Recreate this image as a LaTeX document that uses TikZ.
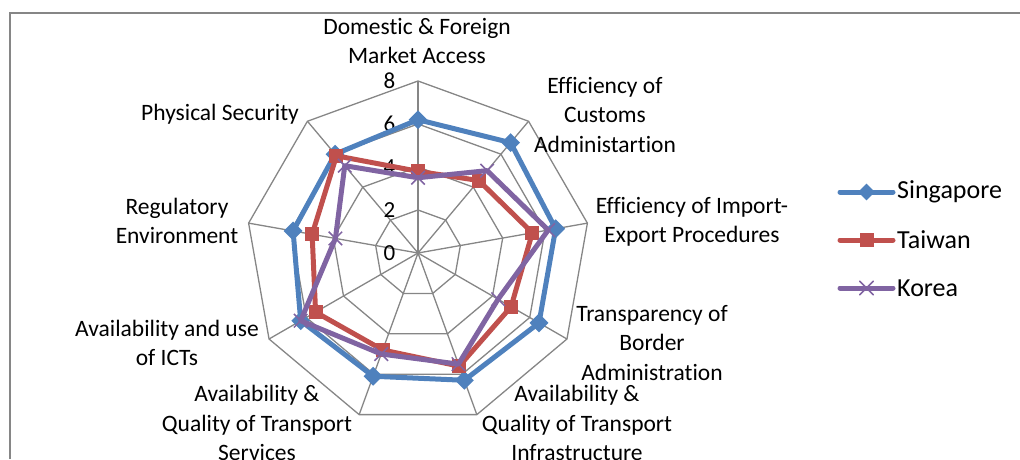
\documentclass[tikz,border=0pt]{standalone}
\usepackage{fontspec}
\setmainfont{Carlito}[Ligatures=NoCommon]
\usepackage{tikz}
\usetikzlibrary{positioning}
\usetikzlibrary{shapes.geometric,shapes.misc}
\definecolor{sgblue}{HTML}{4F81BD}
\definecolor{twred}{HTML}{C0504D}
\definecolor{krpurple}{HTML}{8064A2}
\definecolor{gridgray}{HTML}{868686}
\tikzset{%
  frame/.style     = {draw=gridgray, line width=1.8pt},
  gridline/.style  = {draw=gridgray, line width=1.3pt},
  series/.style    = {line width=5pt, line join=round}, % data line
  axislabel/.style = {align=center, inner sep=0pt, font=\fontsize{23.5}{29.5}\selectfont},
  ticklabel/.style = {anchor=east, inner sep=0pt, font=\fontsize{23}{24}\selectfont},
  keylabel/.style  = {inner sep=0pt, font=\fontsize{26}{28}\selectfont},
  sgmark/.style    = {diamond, fill=sgblue, minimum size=19pt, inner sep=0pt},
  twmark/.style    = {rectangle, fill=twred, minimum size=14pt, inner sep=0pt},
  krmark/.style    = {cross out, draw=krpurple, line width=1.5pt, minimum size=12pt, inner sep=0pt}
}

\begin{document}
\begin{tikzpicture}[x=1pt, y=1pt]

	\useasboundingbox (0,0) rectangle (1020,459);
	\draw[frame] (10,0) -- (10,446) -- (1020,446);

	\begin{scope}[shift={(418pt,206pt)}, x=21.5pt, y=21.5pt]
	\coordinate (o) at (0,0);
	% rings and spokes
	\foreach \r in {2,4,6,8}{
		\draw[gridline] (90:\r) \foreach \k in {1,...,8}{ -- ({90-40*\k}:\r) } -- cycle;
	}
	\foreach \k in {0,...,8}{
		\coordinate (ax\k) at ({90-40*\k}:8);
		\draw[gridline] (o) -- (ax\k);
	}
	\foreach \v in {0,2,4,6,8}{
		\draw node at (-1.05,\v) [ticklabel] (tick\v) {\v};
	}

	% data
	\foreach \v [count=\i from 0] in {6.2,6.7,6.5,6.5,6.3,6.1,6.3,5.9,6.0}
		\coordinate (sg\i) at ({90-40*\i}:\v);
	\foreach \v [count=\i from 0] in {3.8,4.4,5.4,5.0,5.6,4.8,5.5,5.0,5.9}
		\coordinate (tw\i) at ({90-40*\i}:\v);
	\foreach \v [count=\i from 0] in {3.5,5.0,6.15,4.3,5.5,5.0,6.3,3.9,5.3}
		\coordinate (kr\i) at ({90-40*\i}:\v);

	\draw[series, sgblue] (sg0) \foreach \i in {1,...,8}{ -- (sg\i) } -- cycle;
	\foreach \i in {0,...,8}{ \draw node at (sg\i) [sgmark] (sgm\i) {}; }
	\draw[series, twred] (tw0) \foreach \i in {1,...,8}{ -- (tw\i) } -- cycle;
	\foreach \i in {0,...,8}{ \draw node at (tw\i) [twmark] (twm\i) {}; }
	\draw[series, krpurple] (kr0) \foreach \i in {1,...,8}{ -- (kr\i) } -- cycle;
	\foreach \i in {0,...,8}{ \draw node at (kr\i) [krmark] (krm\i) {}; }
	\end{scope}

	% axis names
	\draw node at (417,418) [axislabel] (market) {Domestic \& Foreign\\Market Access};
	\draw node at (605,344) [axislabel] (customs) {Efficiency of\\Customs\\Administartion};
	\draw node at (692,237) [axislabel] (procedures) {Efficiency of Import-\\Export Procedures};
	\draw node at (652,116) [axislabel] (border) {Transparency of\\Border\\Administration};
	\draw node at (577,36) [axislabel] (infra) {Availability \&\\Quality of Transport\\Infrastructure};
	\draw node at (257,36) [axislabel] (services) {Availability \&\\Quality of Transport\\Services};
	\draw node at (167,116) [axislabel] (icts) {Availability and use\\of ICTs};
	\draw node at (177,238) [axislabel] (regulatory) {Regulatory\\Environment};
	\draw node at (220,345) [axislabel] (security) {Physical Security};

	% legend
	\coordinate (sgkeya) at (840,267);
	\coordinate (sgkeyb) at (893,267);
	\coordinate (twkeya) at (840,219);
	\coordinate (twkeyb) at (893,219);
	\coordinate (krkeya) at (840,171);
	\coordinate (krkeyb) at (893,171);

	\draw[series, sgblue, line cap=round] (sgkeya) -- node[sgmark] (sgkeym) {} (sgkeyb);
	\draw[series, twred, line cap=round] (twkeya) -- node[twmark] (twkeym) {} (twkeyb);
	\draw[series, krpurple, line cap=round] (krkeya) -- node[krmark] (krkeym) {} (krkeyb);

	\draw node [keylabel, right=4pt of sgkeyb] (sgkey) {Singapore};
	\draw node [keylabel, right=4pt of twkeyb] (twkey) {Taiwan};
	\draw node [keylabel, right=4pt of krkeyb] (krkey) {Korea};

\end{tikzpicture}
\end{document}
